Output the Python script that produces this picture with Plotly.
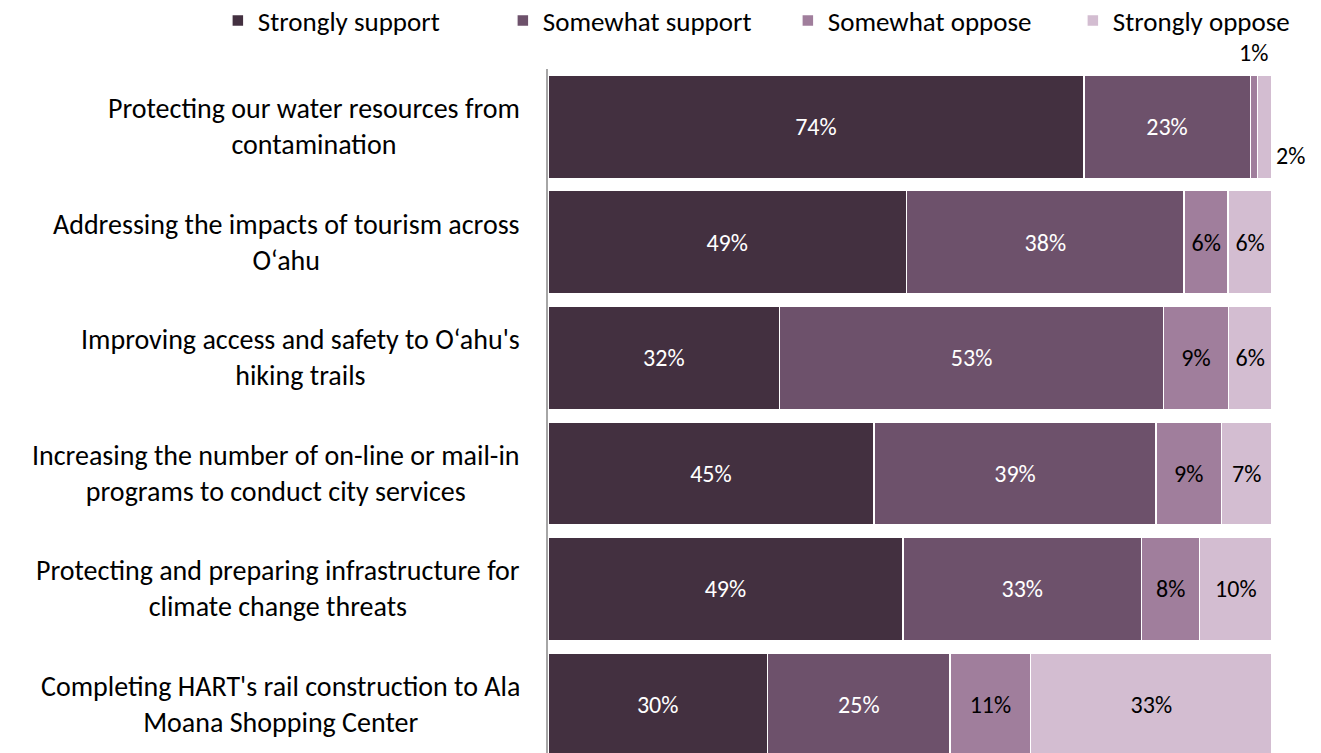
import plotly.graph_objects as go

categories = [
    "Protecting our water resources from<br>contamination",
    "Addressing the impacts of tourism across<br>O\u2018ahu",
    "Improving access and safety to O\u2018ahu's<br>hiking trails",
    "Increasing the number of on-line or mail-in<br>programs to conduct city services",
    "Protecting and preparing infrastructure for<br>climate change threats",
    "Completing HART's rail construction to Ala<br>Moana Shopping Center",
]
series_names = ["Strongly support", "Somewhat support", "Somewhat oppose", "Strongly oppose"]
strongly_support = [74, 49, 32, 45, 49, 30]
somewhat_support = [23, 38, 53, 39, 33, 25]
somewhat_oppose = [1, 6, 9, 9, 8, 11]
strongly_oppose = [2, 6, 6, 7, 10, 33]

series_values = [strongly_support, somewhat_support, somewhat_oppose, strongly_oppose]
colors = ["#433040", "#6D516B", "#A07E9C", "#D3BDD1"]
text_colors = ["white", "white", "black", "black"]

FONT = "Carlito, Lato, sans-serif"
LABEL_SIZE = 24
CAT_SIZE = 28
LEGEND_SIZE = 27
rows = list(range(len(categories)))

fig = go.Figure()
for name, vals, col, tcol in zip(series_names, series_values, colors, text_colors):
    # segments too thin for an inside label get an outside annotation instead
    labels = [f"{v}%" if v >= 3 else "" for v in vals]
    fig.add_trace(go.Bar(
        y=rows, x=vals, name=name, orientation="h",
        marker=dict(color=col, line=dict(color="white", width=1.5)),
        text=labels, textposition="inside", insidetextanchor="middle",
        textfont=dict(color=tcol, size=LABEL_SIZE, family=FONT),
        hoverinfo="skip",
    ))

annotations = []
for i, cat in enumerate(categories):
    annotations.append(dict(
        x=0, xref="paper", y=i, yref="y", text=cat, showarrow=False,
        xanchor="right", yanchor="middle", align="center", xshift=-26,
        font=dict(size=CAT_SIZE, family=FONT, color="#000000"),
    ))

# outside labels for the small segments of the first row
first_total = sum(v[0] for v in series_values)
cum = strongly_support[0] + somewhat_support[0]
so_mid = (cum + somewhat_oppose[0] / 2) / first_total * 100
annotations.append(dict(
    x=so_mid, xref="x", y=-0.5, yref="y", text=f"{somewhat_oppose[0]}%",
    showarrow=False, xanchor="center", yanchor="bottom", yshift=0,
    font=dict(size=LABEL_SIZE, family=FONT, color="#000000"),
))
annotations.append(dict(
    x=100, xref="x", y=0.25, yref="y", text=f"{strongly_oppose[0]}%",
    showarrow=False, xanchor="left", yanchor="middle", xshift=2,
    font=dict(size=LABEL_SIZE, family=FONT, color="#000000"),
))

fig.update_layout(
    barmode="stack", barnorm="percent", bargap=0.107,
    width=1321, height=753,
    margin=dict(l=548, r=49, t=69, b=0, autoexpand=False),
    plot_bgcolor="white", paper_bgcolor="white",
    font=dict(family=FONT, size=LABEL_SIZE, color="#000000"),
    showlegend=True,
    legend=dict(orientation="h", x=-0.456, xanchor="left",
                y=1.106, yanchor="top", bgcolor="rgba(0,0,0,0)",
                font=dict(size=LEGEND_SIZE, family=FONT),
                itemwidth=30, entrywidth=240, entrywidthmode="pixels",
                traceorder="normal"),
    annotations=annotations,
)
fig.update_xaxes(range=[0, 100], showgrid=False, showticklabels=False,
                 zeroline=False, showline=False, fixedrange=True)
fig.update_yaxes(range=[5.42, -0.5], showgrid=False, showticklabels=False,
                 zeroline=False, showline=True, linecolor="#A6A6A6", linewidth=1.5,
                 fixedrange=True)

fig.write_html("out.html")
